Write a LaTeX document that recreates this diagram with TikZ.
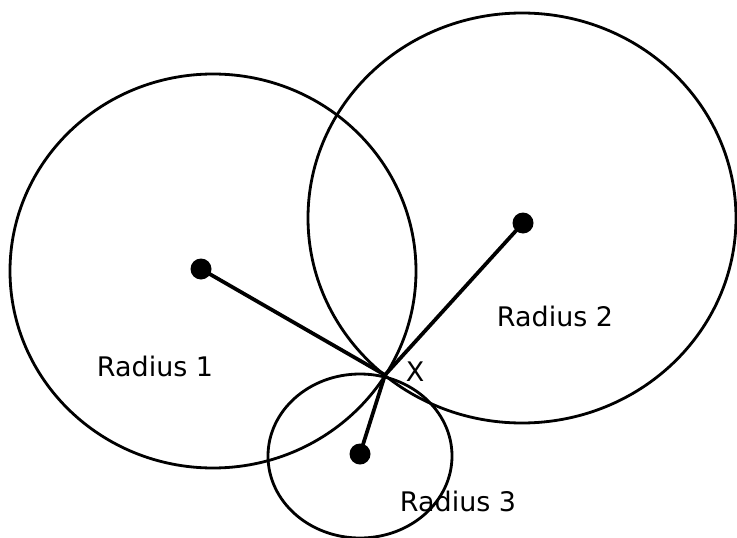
\documentclass[tikz,border=0pt]{standalone}
\usepackage{fontspec}
\setmainfont{DejaVu Sans}
\tikzset{
  ring/.style={
    draw,
    line width=2.4pt
  },
  centre/.style={
    inner sep = 0pt,
    shape = circle,
    minimum size=0.63cm,
    fill
  },
  spoke/.style={
    line width=3.2pt
  },
  tag/.style={
    inner sep = 0pt,
    font=\fontsize{23}{27}\selectfont
  }
}
\begin{document}
\begin{tikzpicture}[x=0.03cm,y=-0.03cm]
            \useasboundingbox (0,0) rectangle (737,537);
            \draw[ring] (213,271) ellipse [x radius=203, y radius=197];
            \draw[ring] (522,218) ellipse [x radius=214, y radius=205];
            \draw[ring] (360,456) ellipse [x radius=92, y radius=82];
            \coordinate (x) at (385,375);
            \foreach \i/\px/\py in {1/201/269,2/523/223,3/360/454}{
                    \node[centre] (c\i) at (\px,\py) {};
                    \draw[spoke] (c\i.center) -- (x);
                }
            \node[tag] (r1) at (155,366) {Radius 1};
            \node[tag] (r2) at (555,316) {Radius 2};
            \node[tag] (r3) at (458,501) {Radius 3};
            \node[tag] (xl) at (415,372) {X};
        \end{tikzpicture}
\end{document}
